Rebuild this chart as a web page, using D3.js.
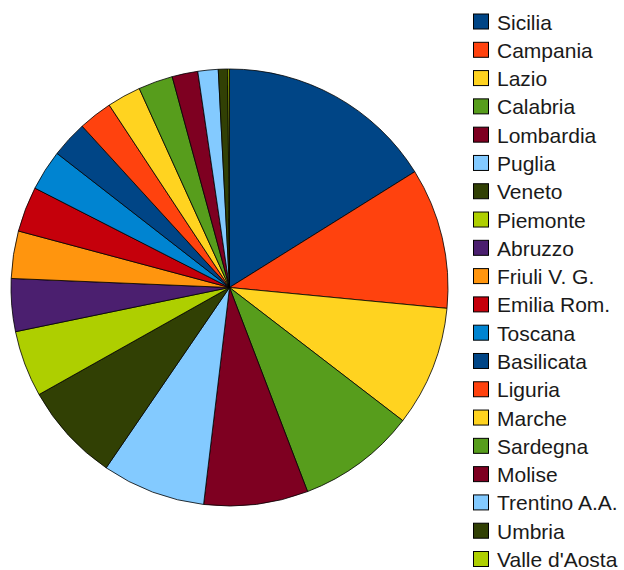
<!DOCTYPE html>
<html>
<head>
<meta charset="utf-8">
<script src="https://cdn.jsdelivr.net/npm/d3@7"></script>
<style>
  body { margin: 0; background: #fff; }
  text { font-family: "Liberation Sans", Arial, sans-serif; }
</style>
</head>
<body>
<div id="svg-holder"></div>
<script>
// share of each region (percent)
let regions = ["Sicilia", "Campania", "Lazio", "Calabria", "Lombardia", "Puglia", "Veneto",
  "Piemonte", "Abruzzo", "Friuli V. G.", "Emilia Rom.", "Toscana", "Basilicata", "Liguria",
  "Marche", "Sardegna", "Molise", "Trentino A.A.", "Umbria", "Valle d'Aosta"];
let shares = [16.1, 10.4, 8.9, 8.75, 7.7, 7.65, 7.3, 4.9, 3.9, 3.5, 3.35, 3.0, 2.7, 2.5,
  2.5, 2.55, 1.9, 1.5, 0.7, 0.12];
let palette = ["#004586", "#ff420e", "#ffd320", "#579d1c", "#7e0021", "#83caff",
  "#314004", "#aecf00", "#4b1f6f", "#ff950e", "#c5000b", "#0084d1"];

let width = 624, height = 570;
let cx = 229.5, cy = 287.5, radius = 218.5;

let svg = d3.select("#svg-holder")
  .append("svg")
  .attr("width", width)
  .attr("height", height);

let data = regions.map((r, i) => ({ name: r, value: shares[i] }));

let color = d3.scaleOrdinal()
  .domain(regions)
  .range(regions.map((r, i) => palette[i % palette.length]));

let pie = d3.pie().sort(null).value(d => d.value);
let arc = d3.arc().innerRadius(0).outerRadius(radius);

svg.append("g")
  .attr("transform", "translate(" + cx + "," + cy + ")")
  .selectAll("path")
  .data(pie(data))
  .join("path")
    .attr("d", arc)
    .attr("fill", d => color(d.data.name))
    .attr("stroke", "#000")
    .attr("stroke-width", 0.8)
    .attr("stroke-linejoin", "round");

// legend
let y = d3.scalePoint()
  .domain(regions)
  .range([21.5, 559]);

let legend = svg.append("g")
  .selectAll("g")
  .data(regions)
  .join("g")
    .attr("transform", d => "translate(473," + y(d) + ")");

legend.append("rect")
  .attr("x", 0.5)
  .attr("y", -7.5)
  .attr("width", 15)
  .attr("height", 15)
  .attr("fill", d => color(d))
  .attr("stroke", "#000")
  .attr("stroke-width", 1);

legend.append("text")
  .attr("x", 24)
  .attr("y", 8)
  .attr("font-size", "21px")
  .attr("fill", "#1a1a1a")
  .text(d => d);
</script>
</body>
</html>
